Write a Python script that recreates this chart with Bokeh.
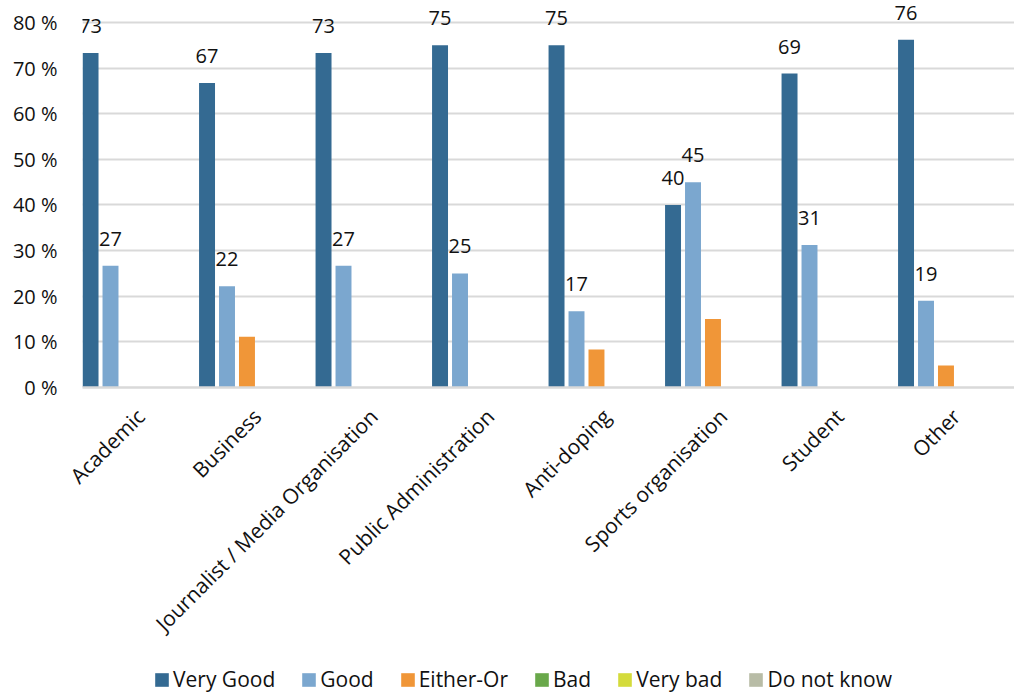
import math
from bokeh.plotting import figure
from bokeh.layouts import column
from bokeh.models import (ColumnDataSource, FactorRange, Range1d, FixedTicker,
                          PrintfTickFormatter, Legend, LegendItem)
from bokeh.transform import dodge
from bokeh.core.properties import value
from bokeh.embed import file_html
from bokeh.resources import INLINE

categories = ["Academic", "Business", "Journalist / Media Organisation",
              "Public Administration", "Anti-doping", "Sports organisation",
              "Student", "Other"]
series_names = ["Very Good", "Good", "Either-Or", "Bad", "Very bad", "Do not know"]
very_good = [73.3, 66.7, 73.3, 75.0, 75.0, 40.0, 68.8, 76.2]
good = [26.7, 22.2, 26.7, 25.0, 16.7, 45.0, 31.2, 19.0]
either_or = [0.0, 11.1, 0.0, 0.0, 8.3, 15.0, 0.0, 4.8]
bad = [0, 0, 0, 0, 0, 0, 0, 0]
very_bad = [0, 0, 0, 0, 0, 0, 0, 0]
do_not_know = [0, 0, 0, 0, 0, 0, 0, 0]
y_ticks = [0, 10, 20, 30, 40, 50, 60, 70, 80]

colors = ["#346A92", "#7BA7CF", "#F09638", "#69A84A", "#D4DB3B", "#B8BCA6"]
series_values = [very_good, good, either_or, bad, very_bad, do_not_know]
labelled = [True, True, False, False, False, False]

FONT = "Open Sans"
TXT = "#111111"

# main chart
p = figure(x_range=FactorRange(factors=categories, range_padding=0),
           y_range=Range1d(0, 84.8),
           width=1014, height=653, output_backend="svg", toolbar_location=None,
           min_border_left=82, min_border_right=0, min_border_top=0,
           min_border_bottom=266)
p.outline_line_color = None

# legend strip (same series; its bars have no width, only the key shows)
q = figure(x_range=FactorRange(factors=categories, range_padding=0),
           y_range=Range1d(-100, -99),
           width=1014, height=40, output_backend="svg", toolbar_location=None,
           x_axis_location=None, y_axis_location=None,
           min_border_left=0, min_border_right=0, min_border_top=0,
           min_border_bottom=0)
q.outline_line_color = None
q.grid.visible = False

step = 0.1714
first = -0.431
bar_w = 0.137

items = []
for i, (name, vals, col) in enumerate(zip(series_names, series_values, colors)):
    off = first + i * step
    src = ColumnDataSource(dict(cat=categories, v=vals,
                                lbl=["%.0f" % v for v in vals]))
    p.vbar(x=dodge("cat", off, range=p.x_range), top="v", width=bar_w,
           source=src, fill_color=col, line_color=None)
    r = q.vbar(x=dodge("cat", off, range=q.x_range), top="v", width=0,
               source=src, fill_color=col, line_color=None)
    items.append(LegendItem(label=name, renderers=[r]))
    if labelled[i]:
        p.text(x=dodge("cat", off, range=p.x_range), y="v", text="lbl",
               source=src, text_align="center", text_baseline="alphabetic",
               y_offset=-27, text_font=value(FONT), text_font_size="20px",
               text_color=TXT)

# axes
p.yaxis.ticker = FixedTicker(ticks=y_ticks)
p.yaxis.formatter = PrintfTickFormatter(format="%d %%")
p.yaxis.axis_line_color = None
p.yaxis.major_tick_line_color = None
p.yaxis.minor_tick_line_color = None
p.yaxis.major_label_standoff = 19
p.yaxis.major_label_text_font = FONT
p.yaxis.major_label_text_font_size = "20px"
p.yaxis.major_label_text_color = TXT

p.xaxis.axis_line_color = "#D9D9D9"
p.xaxis.axis_line_width = 2.5
p.xaxis.major_tick_line_color = None
p.xaxis.minor_tick_line_color = None
p.xaxis.major_label_orientation = math.pi / 4
p.xaxis.major_label_standoff = 19
p.xaxis.major_label_text_font = FONT
p.xaxis.major_label_text_font_size = "21px"
p.xaxis.major_label_text_color = TXT

p.xgrid.grid_line_color = None
p.ygrid.grid_line_color = "#D9D9D9"
p.ygrid.grid_line_width = 2

legend = Legend(items=items, orientation="horizontal", location=(71, 0),
                padding=0, margin=0, spacing=25, glyph_width=17, glyph_height=17,
                label_standoff=3, label_height=17,
                label_text_font=FONT, label_text_font_size="21px",
                label_text_color=TXT, border_line_color=None,
                background_fill_alpha=0, inactive_fill_alpha=0)
q.add_layout(legend, "center")

layout = column(p, q, spacing=0)
open("out.html", "w").write(file_html(layout, INLINE))
